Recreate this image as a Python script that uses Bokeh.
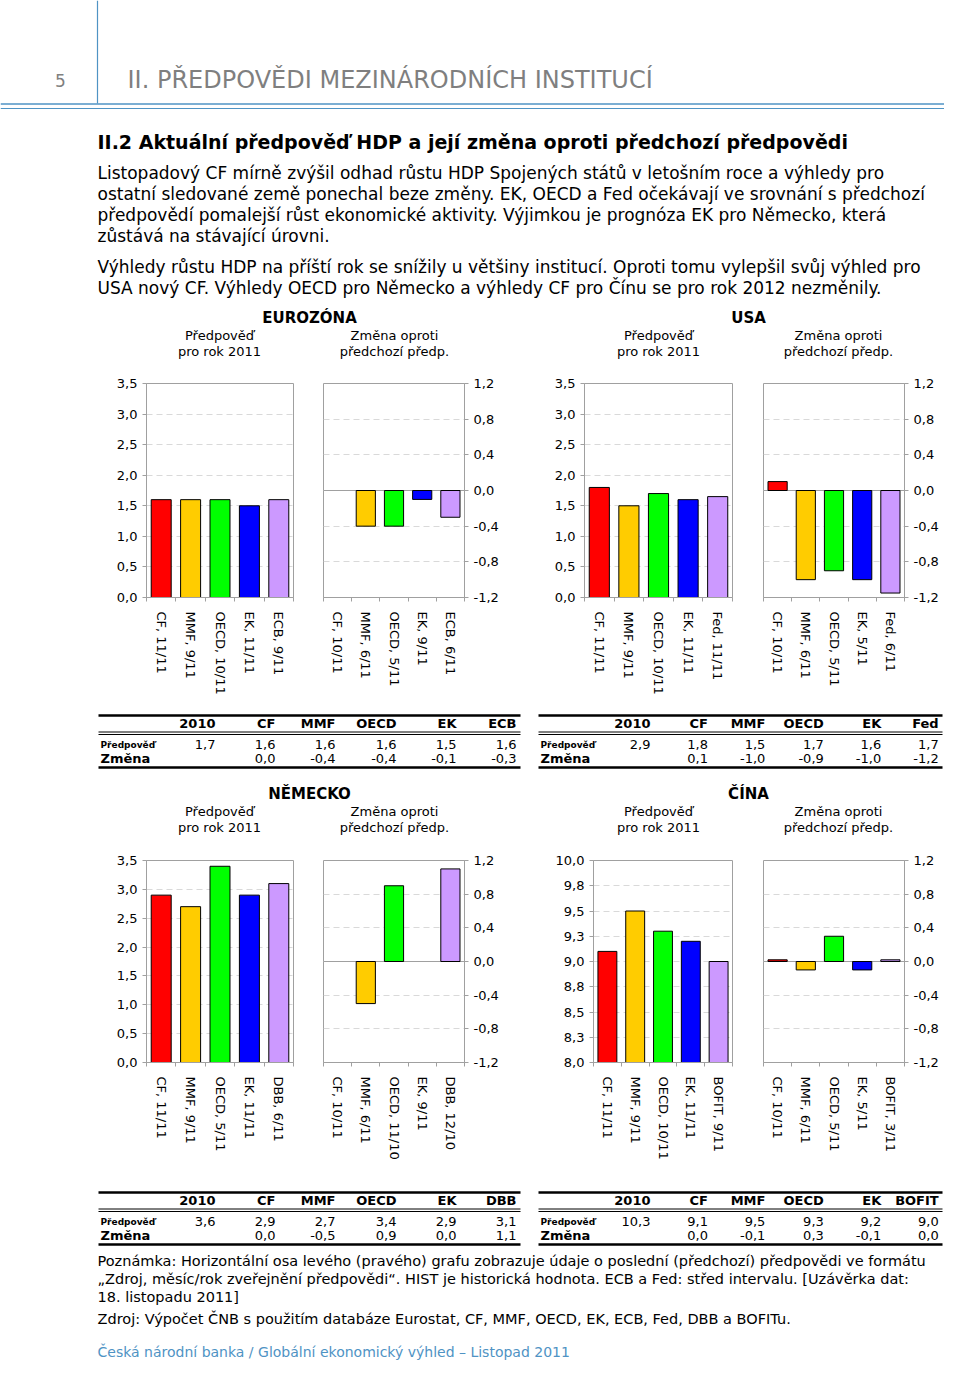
from bokeh.plotting import figure
from bokeh.layouts import row, column
from bokeh.models import Range1d, FixedTicker, CustomJSTickFormatter, Span, ColumnDataSource
from bokeh.core.properties import value
from bokeh.embed import file_html
from bokeh.resources import INLINE

# ---------------- data ----------------
ez_cur_labels = ["CF, 11/11", "MMF, 9/11", "OECD, 10/11", "EK, 11/11", "ECB, 9/11"]
ez_cur_values = [1.6, 1.6, 1.6, 1.5, 1.6]
ez_chg_labels = ["CF, 10/11", "MMF, 6/11", "OECD, 5/11", "EK, 9/11", "ECB, 6/11"]
ez_chg_values = [0.0, -0.4, -0.4, -0.1, -0.3]

us_cur_labels = ["CF, 11/11", "MMF, 9/11", "OECD, 10/11", "EK, 11/11", "Fed, 11/11"]
us_cur_values = [1.8, 1.5, 1.7, 1.6, 1.65]
us_chg_labels = ["CF, 10/11", "MMF, 6/11", "OECD, 5/11", "EK, 5/11", "Fed, 6/11"]
us_chg_values = [0.1, -1.0, -0.9, -1.0, -1.15]

de_cur_labels = ["CF, 11/11", "MMF, 9/11", "OECD, 5/11", "EK, 11/11", "DBB, 6/11"]
de_cur_values = [2.9, 2.7, 3.4, 2.9, 3.1]
de_chg_labels = ["CF, 10/11", "MMF, 6/11", "OECD, 11/10", "EK, 9/11", "DBB, 12/10"]
de_chg_values = [0.0, -0.5, 0.9, 0.0, 1.1]

cn_cur_labels = ["CF, 11/11", "MMF, 9/11", "OECD, 10/11", "EK, 11/11", "BOFIT, 9/11"]
cn_cur_values = [9.1, 9.5, 9.3, 9.2, 9.0]
cn_chg_labels = ["CF, 10/11", "MMF, 6/11", "OECD, 5/11", "EK, 5/11", "BOFIT, 3/11"]
cn_chg_values = [0.02, -0.1, 0.3, -0.1, 0.02]

level_ticks = [0.0, 0.5, 1.0, 1.5, 2.0, 2.5, 3.0, 3.5]
cn_level_ticks = [8.0, 8.25, 8.5, 8.75, 9.0, 9.25, 9.5, 9.75, 10.0]
change_ticks = [-1.2, -0.8, -0.4, 0.0, 0.4, 0.8, 1.2]

ez_tab_head = ["2010", "CF", "MMF", "OECD", "EK", "ECB"]
ez_tab_fc = [1.7, 1.6, 1.6, 1.6, 1.5, 1.6]
ez_tab_chg = [None, 0.0, -0.4, -0.4, -0.1, -0.3]
us_tab_head = ["2010", "CF", "MMF", "OECD", "EK", "Fed"]
us_tab_fc = [2.9, 1.8, 1.5, 1.7, 1.6, 1.7]
us_tab_chg = [None, 0.1, -1.0, -0.9, -1.0, -1.2]
de_tab_head = ["2010", "CF", "MMF", "OECD", "EK", "DBB"]
de_tab_fc = [3.6, 2.9, 2.7, 3.4, 2.9, 3.1]
de_tab_chg = [None, 0.0, -0.5, 0.9, 0.0, 1.1]
cn_tab_head = ["2010", "CF", "MMF", "OECD", "EK", "BOFIT"]
cn_tab_fc = [10.3, 9.1, 9.5, 9.3, 9.2, 9.0]
cn_tab_chg = [None, 0.0, -0.1, 0.3, -0.1, 0.0]

bar_colors = ["#ff0000", "#ffcc00", "#00ff00", "#0000ff", "#cc99ff"]

FONT = "DejaVu Sans"
GRAY = "#a0a0a0"
BLUE = "#4f93c4"
W = 944

para_lines = [
    "Listopadový CF mírně zvýšil odhad růstu HDP Spojených států v letošním roce a výhledy pro",
    "ostatní sledované země ponechal beze změny. EK, OECD a Fed očekávají ve srovnání s předchozí",
    "předpovědí pomalejší růst ekonomické aktivity. Výjimkou je prognóza EK pro Německo, která",
    "zůstává na stávající úrovni.",
    "Výhledy růstu HDP na příští rok se snížily u většiny institucí. Oproti tomu vylepšil svůj výhled pro",
    "USA nový CF. Výhledy OECD pro Německo a výhledy CF pro Čínu se pro rok 2012 nezměnily.",
]
note_lines = [
    "Poznámka: Horizontální osa levého (pravého) grafu zobrazuje údaje o poslední (předchozí) předpovědi ve formátu",
    "„Zdroj, měsíc/rok zveřejnění předpovědi“. HIST je historická hodnota. ECB a Fed: střed intervalu. [Uzávěrka dat:",
    "18. listopadu 2011]",
]
source_line = "Zdroj: Výpočet ČNB s použitím databáze Eurostat, CF, MMF, OECD, EK, ECB, Fed, DBB a BOFITu."
footer_line = "Česká národní banka / Globální ekonomický výhled – Listopad 2011"


# ---------------- helpers ----------------
def page_fig(y0, y1):
    p = figure(width=W, height=y1 - y0, x_range=Range1d(0, W), y_range=Range1d(y1, y0),
               output_backend="svg", toolbar_location=None, x_axis_type=None, y_axis_type=None,
               min_border=0)
    p.grid.visible = False
    p.outline_line_color = None
    p.background_fill_color = "white"
    p.border_fill_color = "white"
    return p


def txt(p, x, y, s, size="13px", bold=False, align="left", color="black"):
    p.text(x=[x], y=[y], text=[s], text_font=value(FONT), text_font_size=value(size),
           text_font_style="bold" if bold else "normal", text_align=align,
           text_baseline="middle", text_color=color)


def hline(p, x0, x1, y, color="black", w=1.0):
    p.line(x=[x0, x1], y=[y, y], line_color=color, line_width=w)


def fmt(v):
    return ("%.1f" % v).replace(".", ",")


def table(p, x0, x1, ytop, head, fc, chg):
    cols = [117, 177, 237, 298, 358, 418]
    scale = (x1 - x0) / 422.0
    hline(p, x0, x1, ytop, w=2.5)
    hline(p, x0, x1, ytop + 16.5, w=1)
    hline(p, x0, x1, ytop + 19, w=1)
    hline(p, x0, x1, ytop + 52, w=2.5)
    for i, h in enumerate(head):
        cx = x0 + cols[i] * scale
        txt(p, cx, ytop + 8, h, size="13px", bold=True, align="right")
        txt(p, cx, ytop + 29, fmt(fc[i]), size="13px", align="right")
        if chg[i] is not None:
            txt(p, cx, ytop + 43, fmt(chg[i]), size="13px", align="right")
    txt(p, x0 + 2, ytop + 29, "Předpověď", size="9px", bold=True)
    txt(p, x0 + 2, ytop + 43, "Změna", size="13px", bold=True)


def chart_titles(p, cx, y, title, lx, rx):
    txt(p, cx, y, title, size="15px", bold=True, align="center")
    txt(p, lx, y + 18, "Předpověď", align="center")
    txt(p, lx, y + 34, "pro rok 2011", align="center")
    txt(p, rx, y + 18, "Změna oproti", align="center")
    txt(p, rx, y + 34, "předchozí předp.", align="center")


def bar_chart(labels, vals, width, height, lo, hi, ticks, bl, br, bt, bb, right_axis=False, base=0.0):
    p = figure(width=width, height=height, x_range=Range1d(0.5, 5.5), y_range=Range1d(lo, hi),
               output_backend="svg", toolbar_location=None,
               min_border_left=bl, min_border_right=br, min_border_top=bt, min_border_bottom=bb,
               y_axis_location="right" if right_axis else "left")
    p.background_fill_color = "white"
    p.border_fill_color = "white"
    xs = list(range(1, len(vals) + 1))
    if right_axis:
        zero = Span(location=0, dimension="width", line_color=GRAY, line_width=1, level="underlay")
        p.add_layout(zero)
    # bars of exactly zero are not drawn at all (as in the original spreadsheet chart)
    outline = ["black" if v != base else None for v in vals]
    fills = [c if v != base else None for c, v in zip(bar_colors, vals)]
    src = ColumnDataSource(dict(x=xs, top=vals, bottom=[base] * len(vals), color=fills, outline=outline))
    p.vbar(x="x", top="top", bottom="bottom", width=0.68, fill_color="color",
           line_color="outline", line_width=1, source=src)

    xa = p.xaxis[0]
    xa.ticker = FixedTicker(ticks=xs, minor_ticks=[i + 0.5 for i in range(0, len(vals) + 1)])
    xa.major_label_overrides = {x: lab for x, lab in zip(xs, labels)}
    xa.major_label_orientation = "vertical"
    xa.major_tick_out = 0
    xa.major_tick_in = 0
    xa.minor_tick_out = 4
    xa.minor_tick_in = 0
    xa.minor_tick_line_color = GRAY
    xa.axis_line_color = GRAY
    xa.major_label_text_font = FONT
    xa.major_label_text_font_size = "13px"
    xa.major_label_text_color = "black"
    xa.major_label_standoff = 10

    ya = p.yaxis[0]
    ya.ticker = FixedTicker(ticks=ticks, minor_ticks=[])
    ya.formatter = CustomJSTickFormatter(code="return tick.toFixed(1).replace('.', ',');")
    ya.major_tick_out = 4
    ya.major_tick_in = 0
    ya.minor_tick_out = 0
    ya.minor_tick_in = 0
    ya.major_tick_line_color = GRAY
    ya.axis_line_color = GRAY
    ya.major_label_text_font = FONT
    ya.major_label_text_font_size = "13px"
    ya.major_label_text_color = "black"
    ya.major_label_standoff = 5

    p.xgrid.visible = False
    p.ygrid.grid_line_color = "#d9d9d9"
    p.ygrid.grid_line_dash = "6 4"
    p.outline_line_color = GRAY
    p.outline_line_width = 1
    return p


# ---------------- top text ----------------
top = page_fig(0, 370)
top.line(x=[97, 97], y=[0, 103], line_color=BLUE, line_width=1.2)
txt(top, 60, 80, "5", size="17px", align="center", color="#808080")
txt(top, 127, 79, "II. PŘEDPOVĚDI MEZINÁRODNÍCH INSTITUCÍ", size="24px", color="#7f7f7f")
hline(top, 0, W, 103.5, color=BLUE, w=1.5)
hline(top, 0, W, 108, color=BLUE, w=1.2)
txt(top, 97, 141, "II.2 Aktuální předpověď HDP a její změna oproti předchozí předpovědi", size="19px", bold=True)
for yy, line in zip([172, 193, 214, 235, 266, 287], para_lines):
    txt(top, 97, yy, line, size="17px")
chart_titles(top, 309, 317, "EUROZÓNA", 219, 394)
chart_titles(top, 748, 317, "USA", 658, 838)

# ---------------- row 1 ----------------
e1 = bar_chart(ez_cur_labels, ez_cur_values, 308, 335, 0, 3.5, level_ticks, 146, 15, 13, 108)
e2 = bar_chart(ez_chg_labels, ez_chg_values, 212, 335, -1.2, 1.2, change_ticks, 15, 56, 13, 105, right_axis=True)
u1 = bar_chart(us_cur_labels, us_cur_values, 228, 335, 0, 3.5, level_ticks, 64, 16, 13, 108)
u2 = bar_chart(us_chg_labels, us_chg_values, 196, 335, -1.2, 1.2, change_ticks, 15, 40, 13, 105, right_axis=True)
row1 = row(e1, e2, u1, u2, spacing=0)

# ---------------- middle ----------------
mid = page_fig(705, 850)
table(mid, 98, 520, 715, ez_tab_head, ez_tab_fc, ez_tab_chg)
table(mid, 538, 942, 715, us_tab_head, us_tab_fc, us_tab_chg)
chart_titles(mid, 309, 793, "NĚMECKO", 219, 394)
chart_titles(mid, 748, 793, "ČÍNA", 658, 838)

# ---------------- row 2 ----------------
g1 = bar_chart(de_cur_labels, de_cur_values, 308, 330, 0, 3.5, level_ticks, 146, 15, 10, 107)
g2 = bar_chart(de_chg_labels, de_chg_values, 212, 330, -1.2, 1.2, change_ticks, 15, 56, 10, 118, right_axis=True)
c1 = bar_chart(cn_cur_labels, cn_cur_values, 228, 330, 8.0, 10.0, cn_level_ticks, 73, 16, 10, 115, base=8.0)
c2 = bar_chart(cn_chg_labels, cn_chg_values, 196, 330, -1.2, 1.2, change_ticks, 15, 40, 10, 114, right_axis=True)
row2 = row(g1, g2, c1, c2, spacing=0)

# ---------------- bottom ----------------
bot = page_fig(1180, 1361)
table(bot, 98, 520, 1192, de_tab_head, de_tab_fc, de_tab_chg)
table(bot, 538, 942, 1192, cn_tab_head, cn_tab_fc, cn_tab_chg)
for yy, line in zip([1260, 1278, 1296], note_lines):
    txt(bot, 97, yy, line, size="14.5px")
txt(bot, 97, 1318, source_line, size="14.5px")
txt(bot, 97, 1351, footer_line, size="14px", color=BLUE)

page = column(top, row1, mid, row2, bot, spacing=0)

with open("out.html", "w") as f:
    f.write(file_html(page, INLINE))
